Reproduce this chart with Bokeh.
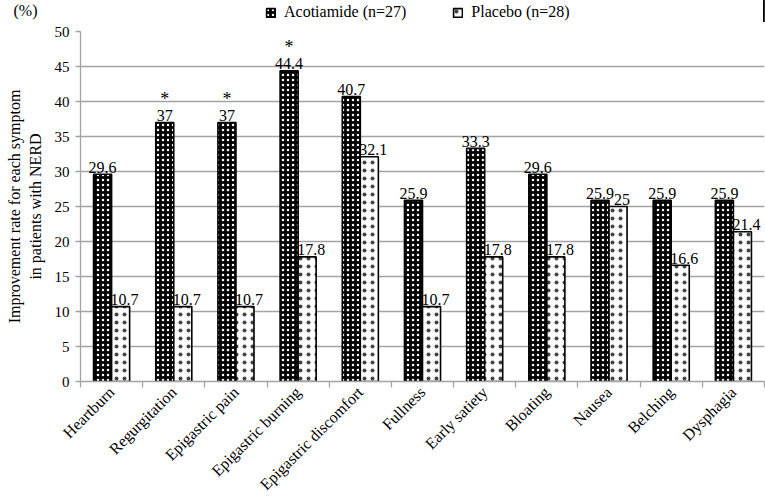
import math
from bokeh.plotting import figure
from bokeh.layouts import column
from bokeh.models import (ColumnDataSource, FixedTicker, Range1d, Legend, LegendItem)
from bokeh.core.properties import value
from bokeh.embed import file_html
from bokeh.resources import INLINE

# ---------------- data ----------------
symptoms = ["Heartburn", "Regurgitation", "Epigastric pain", "Epigastric burning",
            "Epigastric discomfort", "Fullness", "Early satiety", "Bloating",
            "Nausea", "Belching", "Dysphagia"]
acotiamide = [29.6, 37, 37, 44.4, 40.7, 25.9, 33.3, 29.6, 25.9, 25.9, 25.9]
placebo = [10.7, 10.7, 10.7, 17.8, 32.1, 10.7, 17.8, 17.8, 25, 16.6, 21.4]
significant = [False, True, True, True, False, False, False, False, False, False, False]
series_names = ["Acotiamide (n=27)", "Placebo (n=28)"]
y_ticks = [0, 5, 10, 15, 20, 25, 30, 35, 40, 45, 50]
y_title = "Improvement rate for each symptom\nin patients with NERD"
unit_label = "(%)"

FONT = "Liberation Serif"
GRID = "#a3a3a3"
n = len(symptoms)
bar_w = 0.29
half = bar_w / 2

ACO_STYLE = dict(fill_color="black", line_color="black", line_width=1.6,
                 hatch_pattern="dot", hatch_color="white", hatch_scale=5,
                 hatch_weight=2.4)
PLA_STYLE = dict(fill_color="white", line_color="black", line_width=1.6,
                 hatch_pattern="dot", hatch_color="#444444", hatch_scale=8,
                 hatch_weight=0.9)

src = ColumnDataSource(dict(
    x_aco=[i + 0.5 - half for i in range(n)],
    x_pla=[i + 0.5 + half for i in range(n)],
    aco=acotiamide,
    pla=placebo,
    aco_lbl=[f"{v:g}" for v in acotiamide],
    pla_lbl=[f"{v:g}" for v in placebo],
    star=["*" if s else "" for s in significant],
))

# ---------------- header strip: unit label + legend ----------------
header = figure(frame_width=684, frame_height=22, output_backend="svg",
                toolbar_location=None, x_range=Range1d(-10, -9), y_range=Range1d(0, 1),
                min_border_left=80, min_border_right=1, min_border_top=0,
                min_border_bottom=0, x_axis_location=None)
header.outline_line_color = None
header.xgrid.visible = False
header.ygrid.visible = False
# same renderers as the chart, outside this strip's range: only their legend swatches show
h_aco = header.vbar(x="x_aco", top="aco", bottom=0, width=bar_w, source=src, **ACO_STYLE)
h_pla = header.vbar(x="x_pla", top="pla", bottom=0, width=bar_w, source=src, **PLA_STYLE)
hy = header.yaxis[0]
unit_pos = 0.55
hy.ticker = FixedTicker(ticks=[unit_pos])
hy.major_label_overrides = {unit_pos: unit_label}
hy.axis_line_color = None
hy.major_tick_line_color = None
hy.minor_tick_line_color = None
hy.major_label_standoff = 37
hy.major_label_text_font = FONT
hy.major_label_text_font_size = "16px"
hy.major_label_text_color = "black"

legend = Legend(items=[LegendItem(label=series_names[0], renderers=[h_aco]),
                       LegendItem(label=series_names[1], renderers=[h_pla])],
                orientation="horizontal", location=(185, 1),
                border_line_color=None, background_fill_alpha=0,
                glyph_width=11, glyph_height=11, label_standoff=8, spacing=46,
                padding=0, margin=0, label_text_font=FONT,
                label_text_font_size="16px", label_text_color="black")
header.add_layout(legend, "center")

# ---------------- main chart ----------------
p = figure(frame_width=684, frame_height=350, output_backend="svg", toolbar_location=None,
           x_range=Range1d(0, n), y_range=Range1d(0, 50),
           min_border_left=80, min_border_right=1, min_border_top=9,
           min_border_bottom=110)
p.outline_line_color = None

# value labels (drawn first so bars overlap them, as in the reference)
p.text(x="x_aco", y="aco", text="aco_lbl", source=src, text_align="center",
       text_baseline="alphabetic", y_offset=-7, text_font=value(FONT),
       text_font_size="16px", text_color="black")
p.text(x="x_pla", y="pla", text="pla_lbl", source=src, text_align="center",
       text_baseline="alphabetic", y_offset=-7, x_offset=4, text_font=value(FONT),
       text_font_size="16px", text_color="black")
p.text(x="x_aco", y="aco", text="star", source=src, text_align="center",
       text_baseline="alphabetic", y_offset=-24, text_font=value(FONT),
       text_font_size="18px", text_color="black")

p.vbar(x="x_aco", top="aco", bottom=0, width=bar_w, source=src, **ACO_STYLE)
p.vbar(x="x_pla", top="pla", bottom=0, width=bar_w, source=src, **PLA_STYLE)

# x axis: labels at category centres, ticks at category boundaries
xa = p.xaxis[0]
xa.ticker = FixedTicker(ticks=[i + 0.5 for i in range(n)],
                        minor_ticks=list(range(n + 1)))
xa.major_label_overrides = {i + 0.5: s for i, s in enumerate(symptoms)}
xa.major_label_orientation = math.pi / 4
xa.major_tick_line_color = None
xa.minor_tick_out = 6
xa.minor_tick_in = 0
xa.minor_tick_line_color = GRID
xa.minor_tick_line_width = 1.3
xa.axis_line_color = GRID
xa.axis_line_width = 1.3
xa.major_label_text_font = FONT
xa.major_label_text_font_size = "16px"
xa.major_label_text_color = "black"
xa.major_label_standoff = 2

ya = p.yaxis[0]
ya.ticker = FixedTicker(ticks=y_ticks)
ya.major_tick_out = 5
ya.major_tick_in = 0
ya.major_tick_line_color = GRID
ya.major_tick_line_width = 1.3
ya.minor_tick_line_color = None
ya.axis_line_color = GRID
ya.axis_line_width = 1.3
ya.major_label_text_font = FONT
ya.major_label_text_font_size = "15px"
ya.major_label_text_color = "black"
ya.major_label_standoff = 6
ya.axis_label = y_title
ya.axis_label_text_font = FONT
ya.axis_label_text_font_size = "16px"
ya.axis_label_text_font_style = "normal"
ya.axis_label_text_color = "black"
ya.axis_label_standoff = 8

p.xgrid.visible = False
p.ygrid.ticker = FixedTicker(ticks=y_ticks)
p.ygrid.grid_line_color = GRID
p.ygrid.grid_line_width = 1.3

layout = column(header, p, spacing=0)
open("out.html", "w").write(file_html(layout, INLINE))
